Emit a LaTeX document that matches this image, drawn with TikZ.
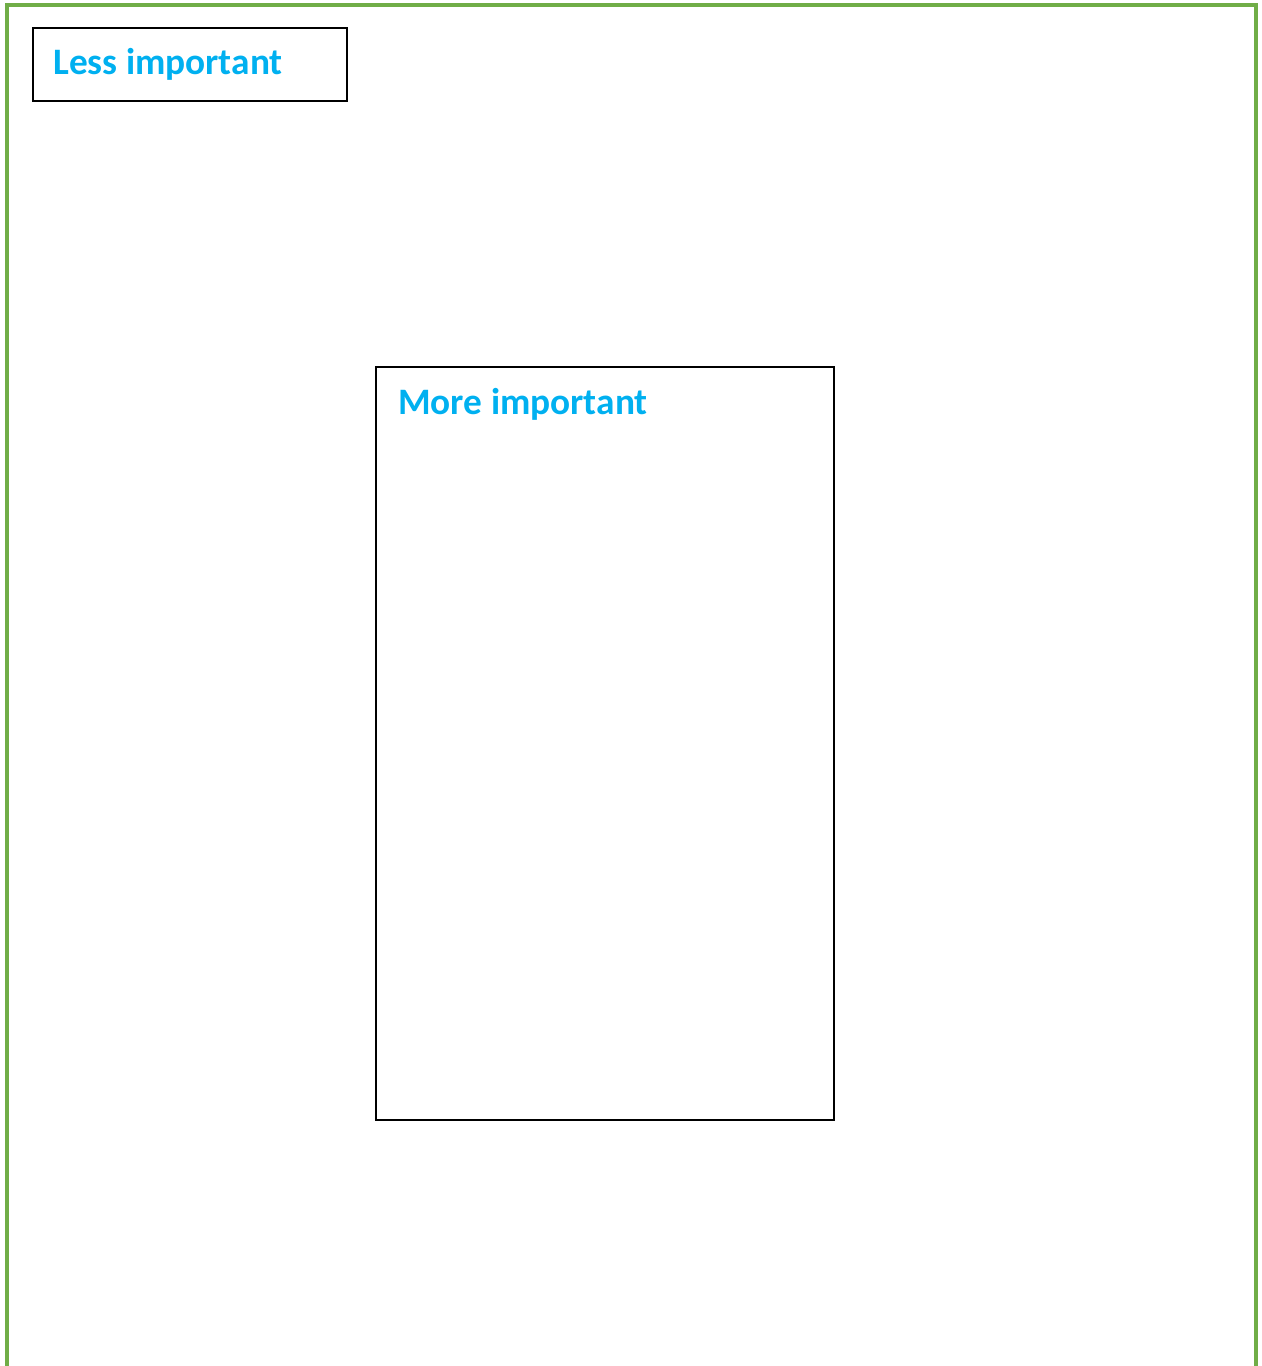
\documentclass[tikz,border=0pt]{standalone}
\usepackage{fontspec}
\setmainfont{Carlito}
\definecolor{frameGreen}{RGB}{112,173,71}
\definecolor{labelBlue}{RGB}{0,176,240}
\begin{document}
\begin{tikzpicture}[x=0.75pt,y=-0.75pt,
	box/.style={draw=black, line width=1.1pt, inner sep=0pt, outer sep=0pt},
	boxtext/.style={anchor=base west, inner sep=0pt, text=labelBlue, font=\bfseries\fontsize{28}{32}\selectfont}]
	
	% ---- Page size ----
	\useasboundingbox (0,0) rectangle (1261,1366);
	
	% ---- Green frame (open at the bottom) ----
	\coordinate (frameBL) at (7,1370);
	\coordinate (frameTL) at (7,5);
	\coordinate (frameTR) at (1256,5);
	\coordinate (frameBR) at (1256,1370);
	\draw[frameGreen, line width=2.4pt] (frameBL) -- (frameTL) -- (frameTR) -- (frameBR);
	
	% ---- Boxes ----
	\node[box, minimum width=314*0.75pt, minimum height=73*0.75pt, anchor=north west] (less) at (33,28) {};
	\node[box, minimum width=458*0.75pt, minimum height=753*0.75pt, anchor=north west] (more) at (376,367) {};
	
	% ---- Labels ----
	\node[boxtext] (lessText) at (53,75) {Less important};
	\node[boxtext] (moreText) at (398,414) {More important};
	
\end{tikzpicture}
\end{document}
